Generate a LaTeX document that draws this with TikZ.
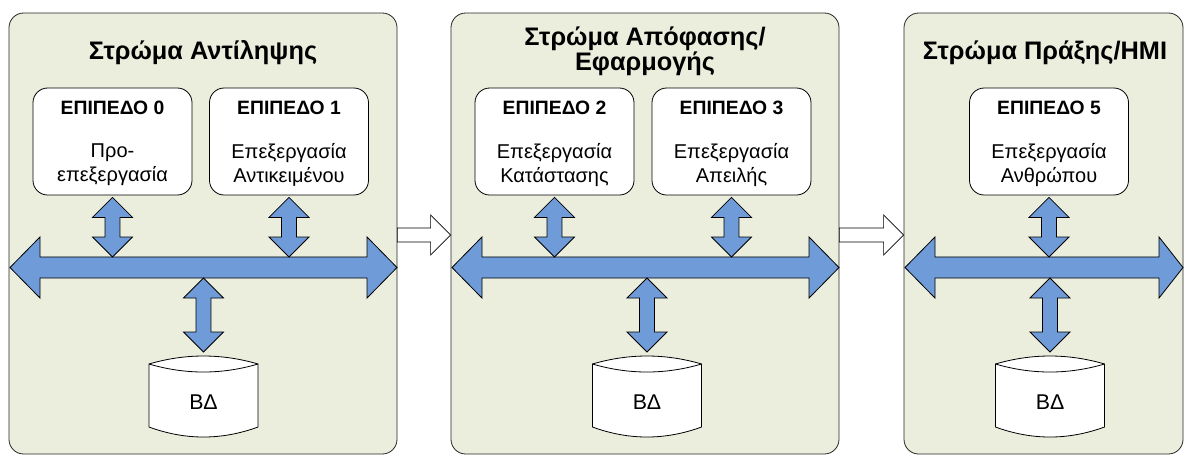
\documentclass[tikz,border=0pt]{standalone}
\usepackage{fontspec}
\setmainfont{Liberation Sans}
\usetikzlibrary{calc,fit}

\definecolor{panelfill}{RGB}{235,238,221}
\definecolor{busblue}{RGB}{111,155,216}

% vertical two-headed block arrow between two tip points (upper tip first)
\newcommand{\vbiarrow}[2]{%
  \draw[blockarrow] let \p1=#1, \p2=#2 in
    (\x1,\y1) -- (\x1+15pt,\y1-15pt) -- (\x1+5.6pt,\y1-15pt) -- (\x1+5.6pt,\y2+15pt)
    -- (\x1+15pt,\y2+15pt) -- (\x1,\y2) -- (\x1-15pt,\y2+15pt) -- (\x1-5.6pt,\y2+15pt)
    -- (\x1-5.6pt,\y1-15pt) -- (\x1-15pt,\y1-15pt) -- cycle;}

% horizontal two-headed bus arrow: left tip, right tip, right head length
\newcommand{\hbiarrow}[3]{%
  \draw[blockarrow] let \p1=#1, \p2=#2 in
    (\x1,\y1) -- (\x1+22.5pt,\y1+22.9pt) -- (\x1+22.5pt,\y1+7.9pt) -- (\x2-#3,\y1+7.9pt)
    -- (\x2-#3,\y1+22.9pt) -- (\x2,\y1) -- (\x2-#3,\y1-22.9pt) -- (\x2-#3,\y1-7.9pt)
    -- (\x1+22.5pt,\y1-7.9pt) -- (\x1+22.5pt,\y1-22.9pt) -- cycle;}

% single hollow arrow passing from one layer to the next
\newcommand{\flowarrow}[2]{%
  \draw[flowarr] let \p1=#1, \p2=#2 in
    (\x1,\y1+5.25pt) -- (\x2-15pt,\y1+5.25pt) -- (\x2-15pt,\y1+15pt) -- (\x2,\y1)
    -- (\x2-15pt,\y1-15pt) -- (\x2-15pt,\y1-5.25pt) -- (\x1,\y1-5.25pt) -- cycle;}

% database drum drawn around the point #1 (centre of its label)
\newcommand{\dbshape}[1]{%
  \draw[dbbody] let \p0=(#1) in
    (\x0-40.9pt,\y0+28.5pt) .. controls (\x0-13.6pt,\y0+36.5pt) and (\x0+13.6pt,\y0+36.5pt) .. (\x0+40.9pt,\y0+28.5pt)
    -- (\x0+40.9pt,\y0-18.75pt) .. controls (\x0+13.6pt,\y0-28.75pt) and (\x0-13.6pt,\y0-28.75pt) .. (\x0-40.9pt,\y0-18.75pt)
    -- cycle;
  \draw[dbline] let \p0=(#1) in
    (\x0-40.9pt,\y0+28.5pt) .. controls (\x0-13.6pt,\y0+20.5pt) and (\x0+13.6pt,\y0+20.5pt) .. (\x0+40.9pt,\y0+28.5pt);}

\begin{document}
\begin{tikzpicture}[x=0.75pt,y=-0.75pt,
  panel/.style={draw=black!85, fill=panelfill, rounded corners=11pt, line width=0.6pt, inner sep=0pt},
  level/.style={draw=black, fill=white, rounded corners=11pt, line width=0.6pt,
                minimum width=119.25pt, minimum height=80.25pt},
  title/.style={font=\bfseries\fontsize{19}{17.5}\selectfont, align=center},
  head/.style={font=\bfseries\fontsize{14.5}{16}\selectfont},
  body/.style={font=\fontsize{15}{18}\selectfont, align=center},
  dbtext/.style={font=\fontsize{16}{18}\selectfont},
  blockarrow/.style={draw=black, fill=busblue, line width=0.6pt, line join=miter},
  flowarr/.style={draw=black, fill=white, line width=0.5pt, line join=miter},
  dbbody/.style={draw=black, fill=white, line width=0.6pt},
  dbline/.style={draw=black, line width=0.6pt}]

\useasboundingbox (0,0) rectangle (1184,455);

% layers
\node[panel, fit={(9,13) (397,454)}] (p1) {};
\node[panel, fit={(451,13) (839,454)}] (p2) {};
\node[panel, fit={(904,13) (1183,454)}] (p3) {};

\node[title] (t1) at (203,52.5) {Στρώμα Αντίληψης};
\node[title] (t2) at (645,51.5) {Στρώμα Απόφασης/\\Εφαρμογής};
\node[title] (t3) at (1045,52.5) {Στρώμα Πράξης/ΗΜΙ};

% flow between layers
\flowarrow{($(p1.east)+(0,1.5)$)}{($(p2.west)+(0,1.5)$)}
\flowarrow{($(p2.east)+(0,1.5)$)}{($(p3.west)+(0,1.5)$)}

% processing levels
\node[level] (l0) at (112.5,141.5) {};
\node[level] (l1) at (289,141.5) {};
\node[level] (l2) at (554.5,141.5) {};
\node[level] (l3) at (731.5,141.5) {};
\node[level] (l5) at (1049,141.5) {};

\node[head] (h0) at ($(l0.north)+(0,20)$) {ΕΠΙΠΕΔΟ 0};
\node[head] (h1) at ($(l1.north)+(0,20)$) {ΕΠΙΠΕΔΟ 1};
\node[head] (h2) at ($(l2.north)+(0,20)$) {ΕΠΙΠΕΔΟ 2};
\node[head] (h3) at ($(l3.north)+(0,20)$) {ΕΠΙΠΕΔΟ 3};
\node[head] (h5) at ($(l5.north)+(0,20)$) {ΕΠΙΠΕΔΟ 5};

\node[body] (d0) at ($(l0.north)+(0,77)$) {Προ-\\επεξεργασία};
\node[body] (d1) at ($(l1.north)+(0,77)$) {Επεξεργασία\\Αντικειμένου};
\node[body] (d2) at ($(l2.north)+(0,77)$) {Επεξεργασία\\Κατάστασης};
\node[body] (d3) at ($(l3.north)+(0,77)$) {Επεξεργασία\\Απειλής};
\node[body] (d5) at ($(l5.north)+(0,77)$) {Επεξεργασία\\Ανθρώπου};

% buses
\coordinate (b1w) at (10,267.5);   \coordinate (b1e) at (397,267.5);
\coordinate (b2w) at (452,267.5);  \coordinate (b2e) at (839,267.5);
\coordinate (b3w) at (905,267.5);  \coordinate (b3e) at (1183,267.5);
\hbiarrow{(b1w)}{(b1e)}{22.5pt}
\hbiarrow{(b2w)}{(b2e)}{22.5pt}
\hbiarrow{(b3w)}{(b3e)}{18pt}

% databases
\coordinate (c1) at (203.5,402);
\coordinate (c2) at (647,402);
\coordinate (c3) at (1050,402);
\dbshape{c1}
\dbshape{c2}
\dbshape{c3}
\node[dbtext] (db1) at (c1) {ΒΔ};
\node[dbtext] (db2) at (c2) {ΒΔ};
\node[dbtext] (db3) at (c3) {ΒΔ};

% level <-> bus links
\vbiarrow{($(l0.south)+(0,2)$)}{($(l0.south |- b1w)+(0,-10.5)$)}
\vbiarrow{($(l1.south)+(0,2)$)}{($(l1.south |- b1w)+(0,-10.5)$)}
\vbiarrow{($(l2.south)+(0,2)$)}{($(l2.south |- b2w)+(0,-10.5)$)}
\vbiarrow{($(l3.south)+(0,2)$)}{($(l3.south |- b2w)+(0,-10.5)$)}
\vbiarrow{($(l5.south)+(0,2)$)}{($(l5.south |- b3w)+(0,-10.5)$)}

% bus <-> database links
\vbiarrow{($(c1 |- b1w)+(0,10.5)$)}{($(c1)+(0,-50)$)}
\vbiarrow{($(c2 |- b2w)+(0,10.5)$)}{($(c2)+(0,-50)$)}
\vbiarrow{($(c3 |- b3w)+(0,10.5)$)}{($(c3)+(0,-50)$)}

\end{tikzpicture}
\end{document}
